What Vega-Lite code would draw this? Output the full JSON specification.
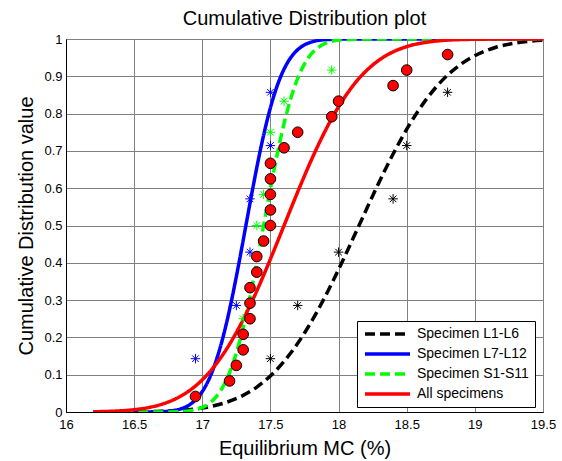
{
  "$schema": "https://vega.github.io/schema/vega-lite/v6.json",
  "width": 477,
  "height": 373,
  "autosize": {"type": "none"},
  "padding": {"left": 66, "top": 39, "right": 19, "bottom": 49},
  "background": "white",
  "title": {"text": "Cumulative Distribution plot", "fontSize": 20, "fontWeight": "normal", "font": "Liberation Sans", "color": "black", "offset": 4, "anchor": "middle", "frame": "group"},
  "config": {
    "font": "Liberation Sans",
    "view": {"stroke": "black", "strokeWidth": 1},
    "axis": {"grid": true, "gridColor": "#808080", "gridWidth": 1, "ticks": false, "domainColor": "black", "labelFontSize": 13, "labelColor": "black", "labelFlush": false, "labelOverlap": false, "titleFontSize": 20, "titleFontWeight": "normal", "titleColor": "black", "titleBaseline": "alphabetic", "titleAlign": "center"},
    "legend": {"orient": "none", "legendX": 291, "legendY": 282, "fillColor": "white", "strokeColor": "black", "padding": 6, "symbolType": "stroke", "symbolSize": 2025, "symbolStrokeWidth": 3.5, "clipHeight": 14, "labelFontSize": 14, "labelColor": "black", "labelOffset": 5, "rowPadding": 6, "cornerRadius": 0, "labelLimit": 300}
  },
  "datasets": {
    "curves": [
      {"series": "Specimen L1-L6", "x": 16.2, "y": 0.0},
      {"series": "Specimen L1-L6", "x": 16.4, "y": 0.0002},
      {"series": "Specimen L1-L6", "x": 16.65, "y": 0.0013},
      {"series": "Specimen L1-L6", "x": 16.775, "y": 0.003},
      {"series": "Specimen L1-L6", "x": 16.9, "y": 0.0062},
      {"series": "Specimen L1-L6", "x": 17.025, "y": 0.0122},
      {"series": "Specimen L1-L6", "x": 17.15, "y": 0.0228},
      {"series": "Specimen L1-L6", "x": 17.275, "y": 0.0401},
      {"series": "Specimen L1-L6", "x": 17.4, "y": 0.0668},
      {"series": "Specimen L1-L6", "x": 17.525, "y": 0.1056},
      {"series": "Specimen L1-L6", "x": 17.65, "y": 0.1587},
      {"series": "Specimen L1-L6", "x": 17.775, "y": 0.2266},
      {"series": "Specimen L1-L6", "x": 17.9, "y": 0.3085},
      {"series": "Specimen L1-L6", "x": 18.025, "y": 0.4013},
      {"series": "Specimen L1-L6", "x": 18.15, "y": 0.5},
      {"series": "Specimen L1-L6", "x": 18.275, "y": 0.5987},
      {"series": "Specimen L1-L6", "x": 18.4, "y": 0.6915},
      {"series": "Specimen L1-L6", "x": 18.525, "y": 0.7734},
      {"series": "Specimen L1-L6", "x": 18.65, "y": 0.8413},
      {"series": "Specimen L1-L6", "x": 18.775, "y": 0.8944},
      {"series": "Specimen L1-L6", "x": 18.9, "y": 0.9332},
      {"series": "Specimen L1-L6", "x": 19.025, "y": 0.9599},
      {"series": "Specimen L1-L6", "x": 19.15, "y": 0.9772},
      {"series": "Specimen L1-L6", "x": 19.275, "y": 0.9878},
      {"series": "Specimen L1-L6", "x": 19.4, "y": 0.9938},
      {"series": "Specimen L1-L6", "x": 19.5, "y": 0.9965},
      {"series": "Specimen L7-L12", "x": 16.2, "y": 0.0},
      {"series": "Specimen L7-L12", "x": 16.52, "y": 0.0},
      {"series": "Specimen L7-L12", "x": 16.72, "y": 0.0013},
      {"series": "Specimen L7-L12", "x": 16.82, "y": 0.0062},
      {"series": "Specimen L7-L12", "x": 16.92, "y": 0.0228},
      {"series": "Specimen L7-L12", "x": 16.97, "y": 0.0401},
      {"series": "Specimen L7-L12", "x": 17.02, "y": 0.0668},
      {"series": "Specimen L7-L12", "x": 17.07, "y": 0.1056},
      {"series": "Specimen L7-L12", "x": 17.12, "y": 0.1587},
      {"series": "Specimen L7-L12", "x": 17.17, "y": 0.2266},
      {"series": "Specimen L7-L12", "x": 17.22, "y": 0.3085},
      {"series": "Specimen L7-L12", "x": 17.27, "y": 0.4013},
      {"series": "Specimen L7-L12", "x": 17.32, "y": 0.5},
      {"series": "Specimen L7-L12", "x": 17.37, "y": 0.5987},
      {"series": "Specimen L7-L12", "x": 17.42, "y": 0.6915},
      {"series": "Specimen L7-L12", "x": 17.47, "y": 0.7734},
      {"series": "Specimen L7-L12", "x": 17.52, "y": 0.8413},
      {"series": "Specimen L7-L12", "x": 17.57, "y": 0.8944},
      {"series": "Specimen L7-L12", "x": 17.62, "y": 0.9332},
      {"series": "Specimen L7-L12", "x": 17.67, "y": 0.9599},
      {"series": "Specimen L7-L12", "x": 17.72, "y": 0.9772},
      {"series": "Specimen L7-L12", "x": 17.82, "y": 0.9938},
      {"series": "Specimen L7-L12", "x": 17.92, "y": 0.9987},
      {"series": "Specimen L7-L12", "x": 18.12, "y": 1.0},
      {"series": "Specimen L7-L12", "x": 19.5, "y": 1.0},
      {"series": "Specimen S1-S11", "x": 16.2, "y": 0.0},
      {"series": "Specimen S1-S11", "x": 16.65, "y": 0.0},
      {"series": "Specimen S1-S11", "x": 16.85, "y": 0.0013},
      {"series": "Specimen S1-S11", "x": 16.95, "y": 0.0062},
      {"series": "Specimen S1-S11", "x": 17.05, "y": 0.0228},
      {"series": "Specimen S1-S11", "x": 17.1, "y": 0.0401},
      {"series": "Specimen S1-S11", "x": 17.15, "y": 0.0668},
      {"series": "Specimen S1-S11", "x": 17.2, "y": 0.1056},
      {"series": "Specimen S1-S11", "x": 17.25, "y": 0.1587},
      {"series": "Specimen S1-S11", "x": 17.3, "y": 0.2266},
      {"series": "Specimen S1-S11", "x": 17.35, "y": 0.3085},
      {"series": "Specimen S1-S11", "x": 17.4, "y": 0.4013},
      {"series": "Specimen S1-S11", "x": 17.45, "y": 0.5},
      {"series": "Specimen S1-S11", "x": 17.5, "y": 0.5987},
      {"series": "Specimen S1-S11", "x": 17.55, "y": 0.6915},
      {"series": "Specimen S1-S11", "x": 17.6, "y": 0.7734},
      {"series": "Specimen S1-S11", "x": 17.65, "y": 0.8413},
      {"series": "Specimen S1-S11", "x": 17.7, "y": 0.8944},
      {"series": "Specimen S1-S11", "x": 17.75, "y": 0.9332},
      {"series": "Specimen S1-S11", "x": 17.8, "y": 0.9599},
      {"series": "Specimen S1-S11", "x": 17.85, "y": 0.9772},
      {"series": "Specimen S1-S11", "x": 17.95, "y": 0.9938},
      {"series": "Specimen S1-S11", "x": 18.05, "y": 0.9987},
      {"series": "Specimen S1-S11", "x": 18.25, "y": 1.0},
      {"series": "Specimen S1-S11", "x": 19.5, "y": 1.0},
      {"series": "All specimens", "x": 16.2, "y": 0.0007},
      {"series": "All specimens", "x": 16.28, "y": 0.0013},
      {"series": "All specimens", "x": 16.39, "y": 0.003},
      {"series": "All specimens", "x": 16.5, "y": 0.0062},
      {"series": "All specimens", "x": 16.61, "y": 0.0122},
      {"series": "All specimens", "x": 16.72, "y": 0.0228},
      {"series": "All specimens", "x": 16.83, "y": 0.0401},
      {"series": "All specimens", "x": 16.94, "y": 0.0668},
      {"series": "All specimens", "x": 17.05, "y": 0.1056},
      {"series": "All specimens", "x": 17.16, "y": 0.1587},
      {"series": "All specimens", "x": 17.27, "y": 0.2266},
      {"series": "All specimens", "x": 17.38, "y": 0.3085},
      {"series": "All specimens", "x": 17.49, "y": 0.4013},
      {"series": "All specimens", "x": 17.6, "y": 0.5},
      {"series": "All specimens", "x": 17.71, "y": 0.5987},
      {"series": "All specimens", "x": 17.82, "y": 0.6915},
      {"series": "All specimens", "x": 17.93, "y": 0.7734},
      {"series": "All specimens", "x": 18.04, "y": 0.8413},
      {"series": "All specimens", "x": 18.15, "y": 0.8944},
      {"series": "All specimens", "x": 18.26, "y": 0.9332},
      {"series": "All specimens", "x": 18.37, "y": 0.9599},
      {"series": "All specimens", "x": 18.48, "y": 0.9772},
      {"series": "All specimens", "x": 18.7, "y": 0.9938},
      {"series": "All specimens", "x": 18.92, "y": 0.9987},
      {"series": "All specimens", "x": 19.2, "y": 0.9999},
      {"series": "All specimens", "x": 19.5, "y": 1.0}
    ],
    "stars": [
      {"group": "L1-L6", "x": 17.5, "y": 0.1429},
      {"group": "L1-L6", "x": 17.7, "y": 0.2857},
      {"group": "L1-L6", "x": 18.0, "y": 0.4286},
      {"group": "L1-L6", "x": 18.4, "y": 0.5714},
      {"group": "L1-L6", "x": 18.5, "y": 0.7143},
      {"group": "L1-L6", "x": 18.8, "y": 0.8571},
      {"group": "L7-L12", "x": 16.95, "y": 0.1429},
      {"group": "L7-L12", "x": 17.25, "y": 0.2857},
      {"group": "L7-L12", "x": 17.35, "y": 0.4286},
      {"group": "L7-L12", "x": 17.35, "y": 0.5714},
      {"group": "L7-L12", "x": 17.5, "y": 0.7143},
      {"group": "L7-L12", "x": 17.5, "y": 0.8571},
      {"group": "S1-S11", "x": 17.2, "y": 0.0833},
      {"group": "S1-S11", "x": 17.3, "y": 0.1667},
      {"group": "S1-S11", "x": 17.3, "y": 0.25},
      {"group": "S1-S11", "x": 17.35, "y": 0.3333},
      {"group": "S1-S11", "x": 17.4, "y": 0.4167},
      {"group": "S1-S11", "x": 17.4, "y": 0.5},
      {"group": "S1-S11", "x": 17.45, "y": 0.5833},
      {"group": "S1-S11", "x": 17.5, "y": 0.6667},
      {"group": "S1-S11", "x": 17.5, "y": 0.75},
      {"group": "S1-S11", "x": 17.6, "y": 0.8333},
      {"group": "S1-S11", "x": 17.95, "y": 0.9167}
    ],
    "all": [
      {"x": 16.95, "y": 0.0417},
      {"x": 17.2, "y": 0.0833},
      {"x": 17.25, "y": 0.125},
      {"x": 17.3, "y": 0.1667},
      {"x": 17.3, "y": 0.2083},
      {"x": 17.35, "y": 0.25},
      {"x": 17.35, "y": 0.2917},
      {"x": 17.35, "y": 0.3333},
      {"x": 17.4, "y": 0.375},
      {"x": 17.4, "y": 0.4167},
      {"x": 17.45, "y": 0.4583},
      {"x": 17.5, "y": 0.5},
      {"x": 17.5, "y": 0.5417},
      {"x": 17.5, "y": 0.5833},
      {"x": 17.5, "y": 0.625},
      {"x": 17.5, "y": 0.6667},
      {"x": 17.6, "y": 0.7083},
      {"x": 17.7, "y": 0.75},
      {"x": 17.95, "y": 0.7917},
      {"x": 18.0, "y": 0.8333},
      {"x": 18.4, "y": 0.875},
      {"x": 18.5, "y": 0.9167},
      {"x": 18.8, "y": 0.9583}
    ]
  },
  "encoding": {
    "x": {"field": "x", "type": "quantitative", "scale": {"domain": [16, 19.5], "nice": false, "zero": false},
      "axis": {"values": [16, 16.5, 17, 17.5, 18, 18.5, 19, 19.5], "format": "~g", "labelPadding": 6, "title": "Equilibrium MC (%)", "titleX": 238.5, "titleY": 42}},
    "y": {"field": "y", "type": "quantitative", "scale": {"domain": [0, 1], "nice": false},
      "axis": {"values": [0, 0.1, 0.2, 0.3, 0.4, 0.5, 0.6, 0.7, 0.8, 0.9, 1], "format": "~g", "labelPadding": 4, "title": "Cumulative Distribution value", "titleX": -34, "titleY": 186.5, "titleAngle": 270}}
  },
  "layer": [
    {
      "data": {"name": "curves"},
      "mark": {"type": "line", "strokeWidth": 3.5, "interpolate": "monotone", "clip": true},
      "encoding": {
        "color": {"field": "series", "type": "nominal", "title": null,
          "scale": {"domain": ["Specimen L1-L6", "Specimen L7-L12", "Specimen S1-S11", "All specimens"], "range": ["#000000", "#0000ff", "#00ff00", "#ff0000"]}},
        "strokeDash": {"field": "series", "type": "nominal", "title": null,
          "scale": {"domain": ["Specimen L1-L6", "Specimen L7-L12", "Specimen S1-S11", "All specimens"], "range": [[10, 5], [1, 0], [10, 5], [1, 0]]}}
      }
    },
    {
      "data": {"name": "stars"},
      "mark": {"type": "point", "shape": "M-1,0L1,0M0,-1L0,1M-0.7,-0.7L0.7,0.7M-0.7,0.7L0.7,-0.7", "filled": false, "strokeWidth": 1, "size": 90, "opacity": 1},
      "encoding": {
        "stroke": {"field": "group", "type": "nominal", "legend": null,
          "scale": {"domain": ["L1-L6", "L7-L12", "S1-S11"], "range": ["#000000", "#0000ff", "#00ff00"]}}
      }
    },
    {
      "data": {"name": "all"},
      "mark": {"type": "point", "shape": "circle", "filled": true, "fill": "#ff0000", "stroke": "#000000", "strokeWidth": 1, "size": 113, "opacity": 1}
    }
  ]
}
